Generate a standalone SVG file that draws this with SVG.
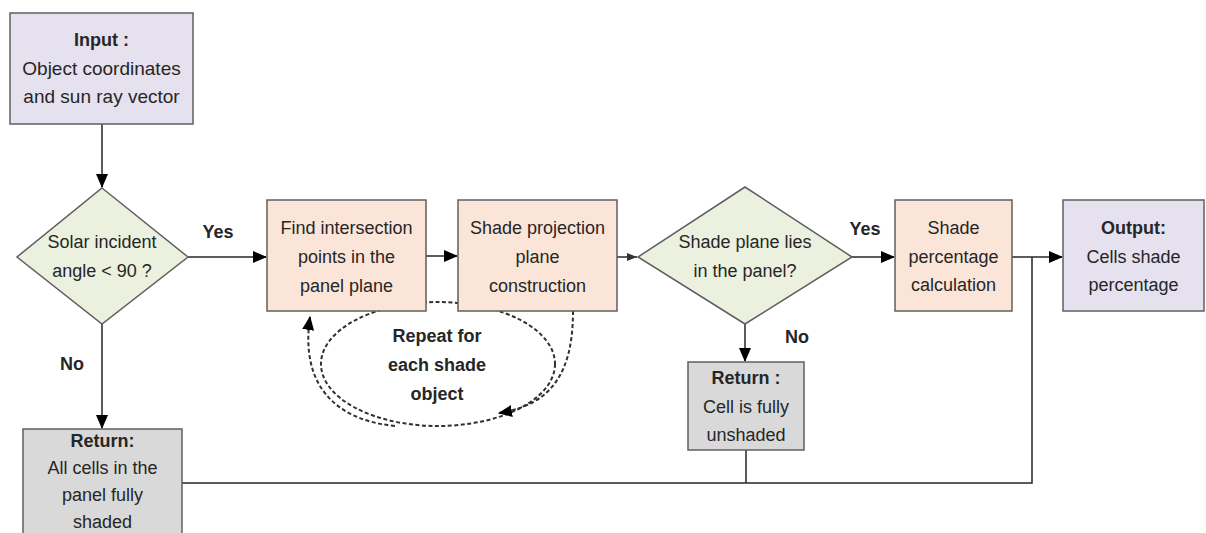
<svg xmlns="http://www.w3.org/2000/svg" width="1206" height="533" viewBox="0 0 1206 533">
<style>
text{font-family:"Liberation Sans",Arial,sans-serif;font-size:18px;fill:#262626;text-anchor:middle}
.b{font-weight:bold}
.box{stroke:#5f5f5f;stroke-width:1.5}
.io{fill:#e5e1ee}
.dec{fill:#ebf0df}
.proc{fill:#fbe5d8}
.ret{fill:#d9d9d9}
.ln{fill:none;stroke:#262626;stroke-width:1.5}
.dash{fill:none;stroke:#303030;stroke-width:2;stroke-dasharray:4,2.5}
</style>
<defs>
<marker id="ah" markerUnits="userSpaceOnUse" markerWidth="14" markerHeight="14" viewBox="0 0 14 14" refX="13" refY="7" orient="auto">
<path d="M0,1 L14,7 L0,13 z" fill="#000"/>
</marker>
<marker id="ahs" markerUnits="userSpaceOnUse" markerWidth="10" markerHeight="10" viewBox="0 0 10 10" refX="10" refY="5" orient="auto">
<path d="M0,1 L10,5 L0,9 z" fill="#333"/>
</marker>
</defs>
<g id="connectors">
<line class="ln" x1="102" y1="124" x2="102" y2="187" marker-end="url(#ah)"/>
<line class="ln" x1="188" y1="257" x2="266" y2="257" marker-end="url(#ah)"/>
<line class="ln" x1="426" y1="256" x2="457" y2="256" marker-end="url(#ah)"/>
<line class="ln" x1="617" y1="257" x2="637" y2="257" marker-end="url(#ahs)" stroke="#555"/>
<line class="ln" x1="852" y1="257" x2="894" y2="257" marker-end="url(#ah)"/>
<line class="ln" x1="1012" y1="257" x2="1062" y2="257" marker-end="url(#ah)"/>
<line class="ln" x1="102" y1="324" x2="102" y2="428" marker-end="url(#ah)"/>
<line class="ln" x1="745" y1="324" x2="745" y2="361" marker-end="url(#ah)"/>
<polyline class="ln" points="182,483 1032,483 1032,257"/>
<line class="ln" x1="746" y1="450" x2="746" y2="483"/>
<ellipse class="dash" cx="438" cy="364" rx="117" ry="62"/>
<path class="dash" d="M573,311 C573,375 550,405 499,413" marker-end="url(#ah)"/>
<path class="dash" d="M395,426 C335,420 300,385 310,317" marker-end="url(#ah)"/>
<text class="b" x="218" y="238">Yes</text>
<text class="b" x="72" y="370">No</text>
<text class="b" x="865" y="235">Yes</text>
<text class="b" x="797" y="343">No</text>
<text class="b" x="437" y="342">Repeat for</text>
<text class="b" x="437" y="371">each shade</text>
<text class="b" x="437" y="400">object</text>
</g>
<g id="input">
<rect class="box io" x="10" y="13" width="183" height="111"/>
<text class="b" x="101.5" y="46">Input :</text>
<text x="101.5" y="75" style="font-size:19px">Object coordinates</text>
<text x="101.5" y="103" style="font-size:19px">and sun ray vector</text>
</g>
<g id="solar-angle">
<polygon class="box dec" points="102,188 188,257 102,324 17,257"/>
<text x="102" y="248">Solar incident</text>
<text x="102" y="277">angle &lt; 90 ?</text>
</g>
<g id="find-intersection">
<rect class="box proc" x="267" y="200" width="159" height="111"/>
<text x="346.5" y="234">Find intersection</text>
<text x="346.5" y="263">points in the</text>
<text x="346.5" y="292">panel plane</text>
</g>
<g id="shade-projection">
<rect class="box proc" x="458" y="200" width="159" height="111"/>
<text x="537.5" y="234">Shade projection</text>
<text x="537.5" y="263">plane</text>
<text x="537.5" y="292">construction</text>
</g>
<g id="shade-plane-check">
<polygon class="box dec" points="745,187 852,257 745,324 638,257"/>
<text x="745" y="248">Shade plane lies</text>
<text x="745" y="277">in the panel?</text>
</g>
<g id="shade-percentage">
<rect class="box proc" x="895" y="200" width="117" height="111"/>
<text x="953.5" y="234">Shade</text>
<text x="953.5" y="263">percentage</text>
<text x="953.5" y="291">calculation</text>
</g>
<g id="output">
<rect class="box io" x="1063" y="200" width="141" height="111"/>
<text class="b" x="1133.5" y="234">Output:</text>
<text x="1133.5" y="263">Cells shade</text>
<text x="1133.5" y="291">percentage</text>
</g>
<g id="return-unshaded">
<rect class="box ret" x="688" y="362" width="116" height="88"/>
<text class="b" x="746" y="384">Return :</text>
<text x="746" y="413">Cell is fully</text>
<text x="746" y="441">unshaded</text>
</g>
<g id="return-shaded">
<rect class="box ret" x="23" y="429" width="159" height="110"/>
<text class="b" x="102.5" y="447">Return:</text>
<text x="102.5" y="474">All cells in the</text>
<text x="102.5" y="501">panel fully</text>
<text x="102.5" y="528">shaded</text>
</g>
</svg>
